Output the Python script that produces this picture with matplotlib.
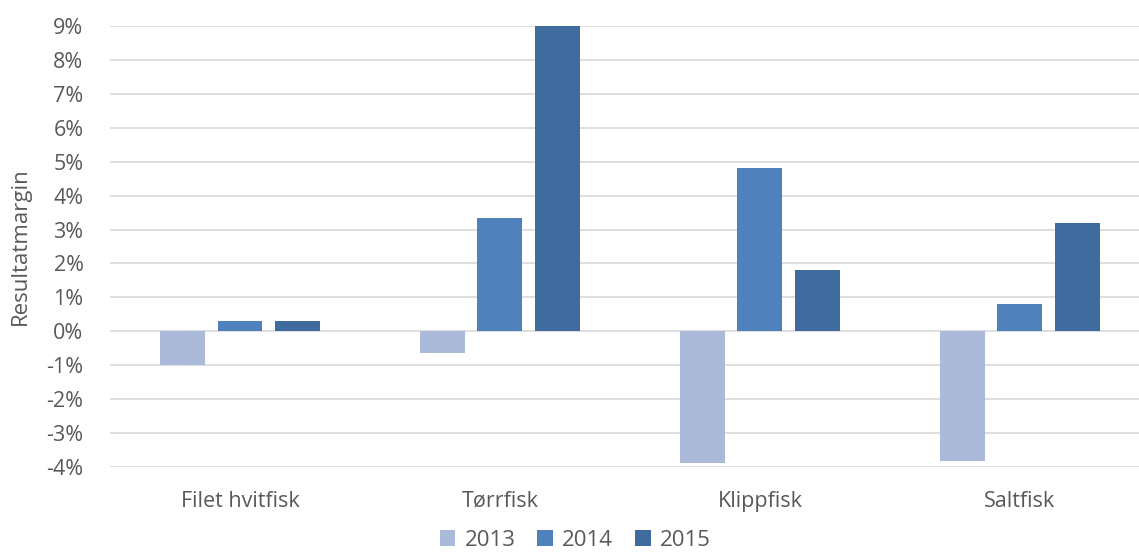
import numpy as np
import matplotlib.pyplot as plt
from matplotlib.ticker import FuncFormatter

categories = ["Filet hvitfisk", "Tørrfisk", "Klippfisk", "Saltfisk"]
years = ["2013", "2014", "2015"]
v2013 = [-1.0, -0.64, -3.87, -3.82]
v2014 = [0.3, 3.33, 4.81, 0.8]
v2015 = [0.3, 9.0, 1.8, 3.2]
colors = ["#abbad8", "#4f81bd", "#3f6b9f"]

plt.rcParams['font.family'] = ['Open Sans', 'DejaVu Sans']
grey = "#595959"

fig = plt.figure(figsize=(11.39, 5.53), dpi=100)
ax = fig.add_axes([110/1139, 1-467/553, 1029/1139, (467-26)/553])

idx = np.arange(len(categories))
w = 0.173
step = 0.221
for i, (vals, yr, c) in enumerate(zip([v2013, v2014, v2015], years, colors)):
    ax.bar(idx + (i-1)*step, vals, w, color=c, label=yr, zorder=3)

ax.set_ylim(-4, 9)
ax.set_xlim(-0.5, 3.458)
ax.set_yticks(range(-4, 10))
ax.yaxis.set_major_formatter(FuncFormatter(lambda v, p: f"{int(v)}%"))
ax.grid(axis='y', color="#d9d9d9", linewidth=1.2, zorder=0)
ax.set_xticks(idx)
ax.set_xticklabels(categories)
ax.tick_params(axis='both', length=0, labelsize=15.5, colors=grey)
ax.tick_params(axis='x', pad=17)
ax.tick_params(axis='y', pad=19)
for s in ax.spines.values():
    s.set_visible(False)
ax.set_ylabel("Resultatmargin", fontsize=16, color=grey)
ax.yaxis.set_label_coords(-0.077, 0.5)

fig.legend(loc='center', bbox_to_anchor=(0.505, 1-540/553), ncol=3, frameon=False,
           fontsize=16, labelcolor=grey, handlelength=0.7, handleheight=0.7,
           columnspacing=1.0, handletextpad=0.4)

plt.savefig("out.png", dpi=100)
